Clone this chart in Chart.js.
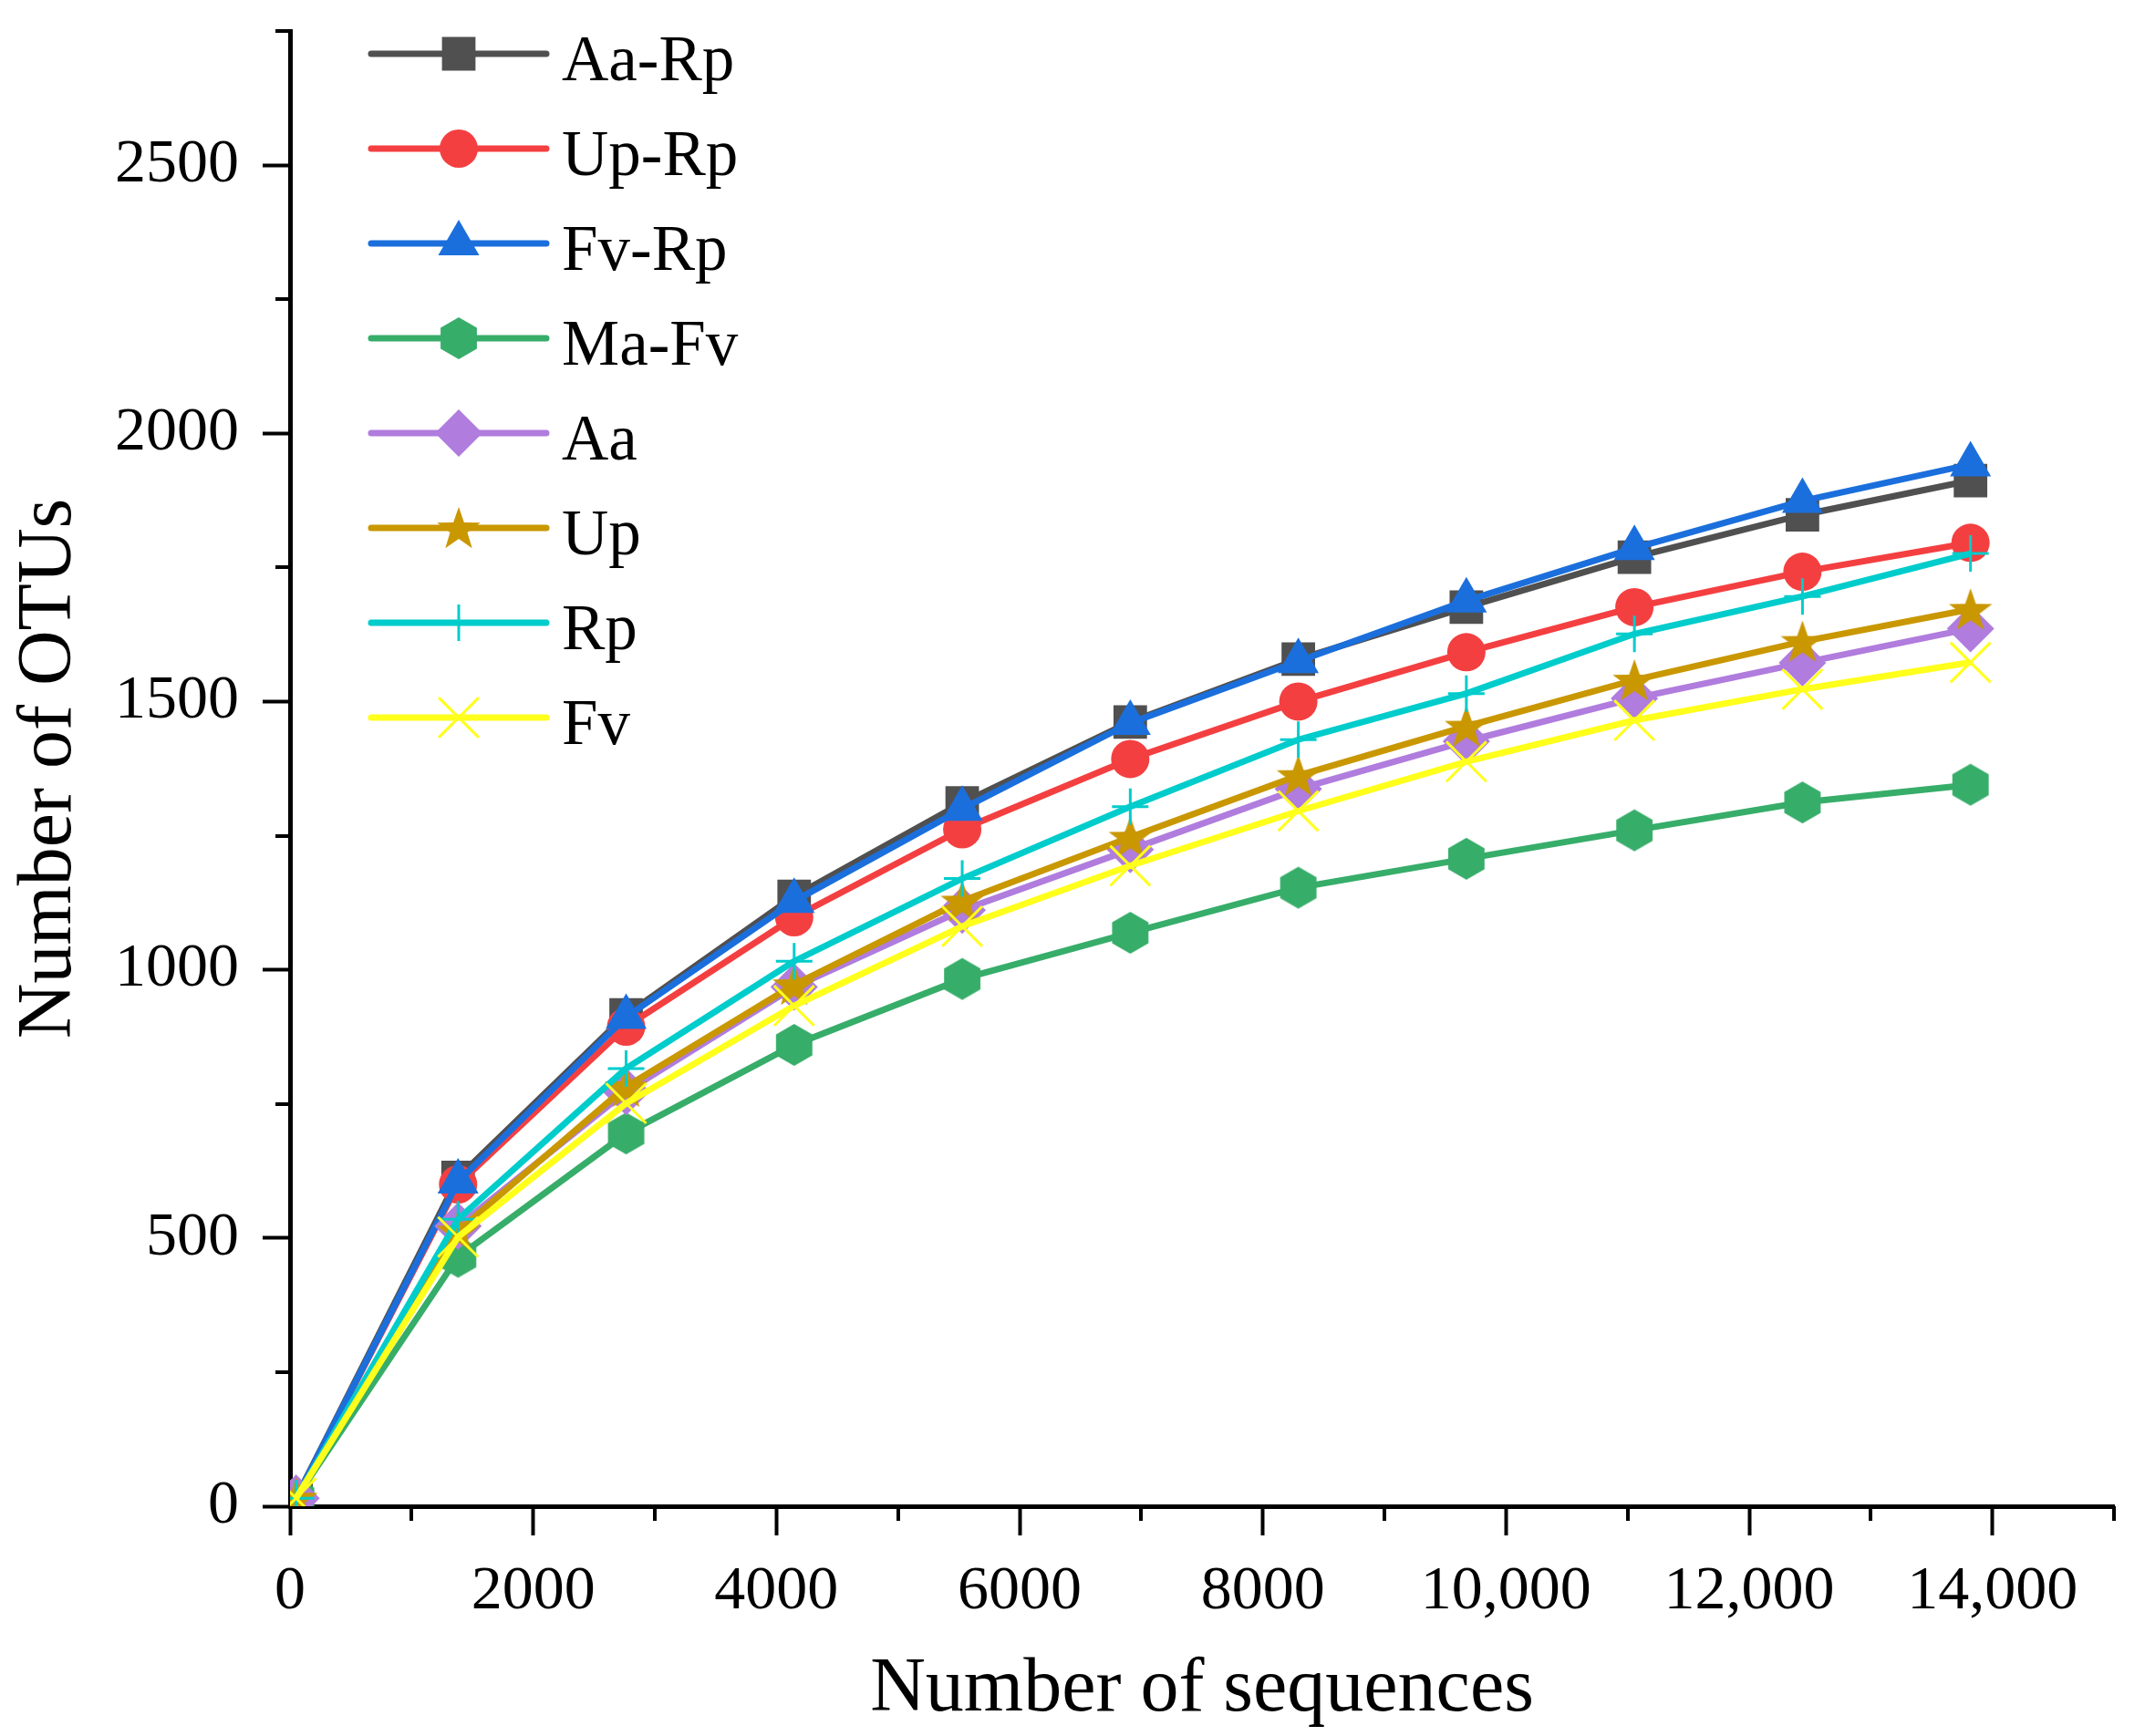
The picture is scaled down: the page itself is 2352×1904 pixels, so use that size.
<!DOCTYPE html>
<html>
<head>
<meta charset="utf-8">
<script src="https://cdn.jsdelivr.net/npm/chart.js@4.4.1/dist/chart.umd.min.js"></script>
<style>
  html, body { margin: 0; padding: 0; background: #fff; }
  #wrap { width: 2352px; height: 1904px; position: relative; }
</style>
</head>
<body>
<div id="wrap"><canvas id="grafico"></canvas></div>
<script>
// sequencing depth (x) shared by every curve
const sequencias = [50, 1382, 2764, 4146, 5528, 6910, 8292, 9674, 11056, 12438, 13820];

const nomes = ['Aa-Rp', 'Up-Rp', 'Fv-Rp', 'Ma-Fv', 'Aa', 'Up', 'Rp', 'Fv'];

const aaRp = [15, 613, 916, 1137, 1311, 1462, 1579, 1676, 1769, 1848, 1912];
const upRp = [15, 600, 894, 1098, 1262, 1393, 1500, 1592, 1676, 1742, 1796];
const fvRp = [15, 605, 912, 1128, 1300, 1460, 1575, 1688, 1786, 1874, 1942];
const maFv = [15, 465, 695, 860, 983, 1069, 1153, 1207, 1260, 1312, 1345];
const aa   = [15, 522, 773, 968, 1111, 1224, 1337, 1426, 1506, 1572, 1636];
const up   = [15, 513, 782, 972, 1128, 1247, 1362, 1454, 1540, 1612, 1672];
const rp   = [15, 535, 816, 1016, 1170, 1304, 1429, 1515, 1626, 1696, 1776];
const fv   = [15, 502, 751, 933, 1081, 1194, 1296, 1388, 1465, 1523, 1573];

const series = [aaRp, upRp, fvRp, maFv, aa, up, rp, fv];

const xTicks = [0, 2000, 4000, 6000, 8000, 10000, 12000, 14000];
const xMinor = [1000, 3000, 5000, 7000, 9000, 11000, 13000, 15000];
const yTicks = [0, 500, 1000, 1500, 2000, 2500];
const yMinor = [250, 750, 1250, 1750, 2250, 2750];

const cores = ['#505050', '#f43f41', '#1b6fdc', '#37ad6a', '#b07cdd', '#c99700', '#00cccc', '#ffff1c'];

const fonte = 'Liberation Serif';

function criarHexagono(cor, r) {
    const c = document.createElement('canvas');
    const w = Math.ceil(Math.sqrt(3) * r) + 2, h = 2 * r + 2;
    c.width = w; c.height = h;
    const g = c.getContext('2d');
    g.fillStyle = cor;
    g.beginPath();
    for (let i = 0; i < 6; i++) {
        const a = -Math.PI / 2 + i * Math.PI / 3;
        g.lineTo(w / 2 + r * Math.cos(a), h / 2 + r * Math.sin(a));
    }
    g.closePath();
    g.fill();
    return c;
}

function criarEstrela(cor, r) {
    const c = document.createElement('canvas');
    const s = 2 * r + 2;
    c.width = s; c.height = s;
    const g = c.getContext('2d');
    g.fillStyle = cor;
    g.beginPath();
    for (let i = 0; i < 10; i++) {
        const a = -Math.PI / 2 + i * Math.PI / 5;
        const rr = i % 2 === 0 ? r : r * 0.4;
        g.lineTo(s / 2 + rr * Math.cos(a), s / 2 + 2 + rr * Math.sin(a));
    }
    g.closePath();
    g.fill();
    return c;
}

const marcadores = [
    { style: 'rect', radius: 26, border: 0 },
    { style: 'circle', radius: 21, border: 0 },
    { style: 'triangle', radius: 26, border: 0 },
    { style: criarHexagono(cores[3], 23), radius: 23, border: 0 },
    { style: 'rectRot', radius: 26, border: 0 },
    { style: criarEstrela(cores[5], 25), radius: 25, border: 0 },
    { style: 'cross', radius: 20, border: 3 },
    { style: 'crossRot', radius: 31, border: 3 }
];

const datasets = nomes.map((nome, i) => ({
    label: nome,
    data: sequencias.map((x, k) => ({ x: x, y: series[i][k] })),
    borderColor: cores[i],
    backgroundColor: cores[i],
    borderWidth: 7,
    pointStyle: marcadores[i].style,
    pointRadius: marcadores[i].radius,
    pointBackgroundColor: cores[i],
    pointBorderColor: cores[i],
    pointBorderWidth: marcadores[i].border,
    pointHoverRadius: marcadores[i].radius,
    tension: 0,
    order: nomes.length - 1 - i
}));

// short ticks between the labelled ones
const tiquesMenores = {
    id: 'tiquesMenores',
    afterDraw(chart) {
        const ctx = chart.ctx;
        const xs = chart.scales.x, ys = chart.scales.y;
        const area = chart.chartArea;
        ctx.save();
        ctx.strokeStyle = '#000';
        ctx.lineWidth = 4;
        ctx.beginPath();
        xMinor.forEach(v => {
            const px = Math.round(xs.getPixelForValue(v));
            ctx.moveTo(px, area.bottom);
            ctx.lineTo(px, area.bottom + 16);
        });
        yMinor.forEach(v => {
            const py = Math.round(ys.getPixelForValue(v));
            ctx.moveTo(area.left, py);
            ctx.lineTo(area.left - 16, py);
        });
        ctx.stroke();
        ctx.restore();
    }
};

const legenda = {
    id: 'legenda',
    afterDraw(chart) {
        const ctx = chart.ctx;
        ctx.save();
        chart.data.datasets.forEach((ds, i) => {
            const y = 59 + i * 104;
            ctx.strokeStyle = ds.borderColor;
            ctx.lineWidth = 7;
            ctx.lineCap = 'round';
            ctx.beginPath();
            ctx.moveTo(407, y);
            ctx.lineTo(599, y);
            ctx.stroke();
            ctx.fillStyle = ds.pointBackgroundColor;
            ctx.strokeStyle = ds.pointBorderColor;
            ctx.lineWidth = ds.pointBorderWidth || 1;
            ctx.lineCap = 'butt';
            Chart.helpers.drawPoint(ctx, {
                pointStyle: ds.pointStyle,
                radius: ds.pointRadius,
                rotation: 0,
                borderWidth: ds.pointBorderWidth
            }, 503, y);
            ctx.fillStyle = '#000';
            ctx.font = '71px "' + fonte + '"';
            ctx.textAlign = 'left';
            ctx.textBaseline = 'alphabetic';
            ctx.fillText(ds.label, 616, y + 29);
        });
        ctx.restore();
    }
};

function formatarX(v) {
    return v >= 10000 ? v.toLocaleString('en-US') : String(v);
}

new Chart(document.getElementById('grafico'), {
    type: 'line',
    data: { datasets: datasets },
    options: {
        responsive: true,
        maintainAspectRatio: false,
        devicePixelRatio: 1,
        animation: false,
        events: [],
        layout: { padding: { top: 31, right: 17, left: 0, bottom: 0 } },
        plugins: {
            legend: { display: false },
            tooltip: { enabled: false }
        },
        scales: {
            x: {
                type: 'linear',
                min: 0,
                max: 15000,
                afterBuildTicks: s => { s.ticks = xTicks.map(v => ({ value: v })); },
                afterFit: s => {
                    s.height = 252;
                    s.paddingLeft = 0; s.paddingRight = 0;
                },
                ticks: {
                    callback: v => formatarX(v),
                    autoSkip: false,
                    maxRotation: 0,
                    color: '#000',
                    padding: 21,
                    font: { family: fonte, size: 68 }
                },
                grid: { drawOnChartArea: false, tickLength: 32, tickWidth: 4, tickColor: '#000' },
                border: { display: true, color: '#000', width: 5 },
                title: {
                    display: true,
                    text: 'Number of sequences',
                    color: '#000',
                    font: { family: fonte, size: 84 },
                    padding: { top: 7, bottom: 0 }
                }
            },
            y: {
                type: 'linear',
                min: 0,
                max: 2750,
                afterBuildTicks: s => { s.ticks = yTicks.map(v => ({ value: v })); },
                afterFit: s => {
                    s.width = 318;
                    s.paddingTop = 0; s.paddingBottom = 0;
                },
                ticks: {
                    callback: v => String(v),
                    autoSkip: false,
                    color: '#000',
                    padding: 26,
                    font: { family: fonte, size: 68 }
                },
                grid: { drawOnChartArea: false, tickLength: 30, tickWidth: 4, tickColor: '#000' },
                border: { display: true, color: '#000', width: 5 },
                title: {
                    display: true,
                    text: 'Number of OTUs',
                    color: '#000',
                    font: { family: fonte, size: 84 },
                    padding: { top: 5, bottom: 0 }
                }
            }
        }
    },
    plugins: [tiquesMenores, legenda]
});
</script>
</body>
</html>
